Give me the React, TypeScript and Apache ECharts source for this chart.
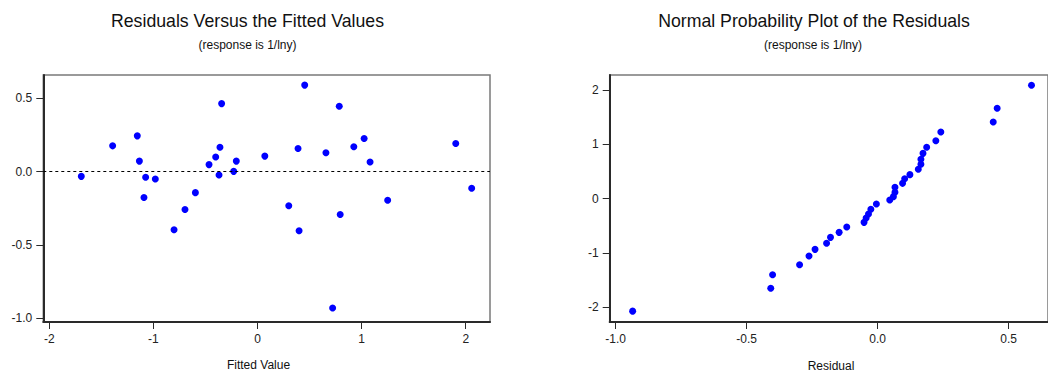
import React, { useEffect, useRef } from "react";
import * as echarts from "echarts";

const fittedValues = [-1.693, -1.392, -1.155, -1.135, -1.075, -1.091, -0.982, -0.802, -0.697, -0.597, -0.466, -0.402, -0.361, -0.345, -0.370, -0.229, -0.204, 0.070, 0.453, 0.389, 0.300, 0.399, 0.657, 0.785, 0.794, 0.721, 0.925, 1.024, 1.081, 1.250, 1.904, 2.057];
const residuals = [-0.032, 0.176, 0.244, 0.072, -0.038, -0.176, -0.050, -0.396, -0.258, -0.143, 0.048, 0.100, 0.167, 0.464, -0.023, 0.002, 0.072, 0.106, 0.590, 0.158, -0.233, -0.403, 0.129, 0.446, -0.292, -0.930, 0.170, 0.226, 0.066, -0.195, 0.192, -0.113];

const orderedResiduals = [-0.935, -0.408, -0.401, -0.298, -0.262, -0.239, -0.195, -0.180, -0.147, -0.118, -0.052, -0.044, -0.035, -0.026, -0.005, 0.046, 0.060, 0.066, 0.066, 0.095, 0.103, 0.123, 0.155, 0.165, 0.165, 0.173, 0.187, 0.222, 0.241, 0.441, 0.456, 0.587];
const normalScores = [-2.07, -1.65, -1.40, -1.215, -1.055, -0.933, -0.822, -0.712, -0.620, -0.521, -0.436, -0.356, -0.282, -0.196, -0.098, -0.025, 0.037, 0.117, 0.209, 0.282, 0.368, 0.442, 0.540, 0.632, 0.724, 0.834, 0.945, 1.067, 1.227, 1.411, 1.663, 2.086];

const leftXTicks = [-2, -1, 0, 1, 2];
const leftYTicks = [-1, -0.5, 0, 0.5];
const rightXTicks = [-1, -0.5, 0, 0.5];
const rightYTicks = [-2, -1, 0, 1, 2];

const titles = ["Residuals Versus the Fitted Values", "Normal Probability Plot of the Residuals"];
const subtitle = "(response is 1/lny)";
const axisNames = ["Fitted Value", "Residual"];

const FONT = "'Liberation Sans', Arial, sans-serif";

function axisBase(ticks: number[], fmt: (v: number) => string) {
  return {
    type: "value" as const,
    splitLine: { show: false },
    axisLine: { show: true, onZero: false, lineStyle: { color: "#2a2a2a", width: 2 } },
    axisTick: { show: true, length: 7, customValues: ticks, lineStyle: { color: "#2a2a2a", width: 1 } },
    axisLabel: {
      customValues: ticks,
      formatter: (v: number) => fmt(v),
      color: "#222",
      fontSize: 12,
      fontFamily: FONT,
      margin: 11,
    },
  };
}

export default function App() {
  const ref = useRef<HTMLDivElement>(null);
  useEffect(() => {
    if (!ref.current) return;
    const chart = echarts.init(ref.current, undefined, { renderer: "svg" });
    const text = (x: number, y: number, s: string, size: number) => ({
      type: "text",
      x,
      y,
      style: { text: s, fontSize: size, fontFamily: FONT, fill: "#111", align: "center", verticalAlign: "middle" },
    });
    chart.setOption({
      animation: false,
      backgroundColor: "#fff",
      grid: [
        { left: 43.3, top: 75, width: 446.7, height: 247, show: true, borderColor: "#7a7a7a", borderWidth: 1.5, backgroundColor: "transparent" },
        { left: 609.7, top: 75, width: 444.4, height: 247, show: true, borderColor: "#7a7a7a", borderWidth: 1.5, backgroundColor: "transparent" },
      ],
      xAxis: [
        { ...axisBase(leftXTicks, (v) => String(v)), gridIndex: 0, min: -2.058, max: 2.233, position: "bottom" },
        { ...axisBase(rightXTicks, (v) => v.toFixed(1)), gridIndex: 1, min: -1.0226, max: 0.65, position: "bottom" },
      ],
      yAxis: [
        { ...axisBase(leftYTicks, (v) => v.toFixed(1)), gridIndex: 0, min: -1.025, max: 0.659, position: "left" },
        { ...axisBase(rightYTicks, (v) => String(v)), gridIndex: 1, min: -2.27, max: 2.276, position: "left" },
      ],
      series: [
        {
          type: "scatter",
          xAxisIndex: 0,
          yAxisIndex: 0,
          symbolSize: 7,
          itemStyle: { color: "#0000ff", opacity: 1 },
          data: fittedValues.map((f, i) => [f, residuals[i]]),
          markLine: {
            silent: true,
            symbol: "none",
            label: { show: false },
            lineStyle: { color: "#000", width: 1, type: [3, 3] },
            data: [{ yAxis: 0 }],
          },
        },
        {
          type: "scatter",
          xAxisIndex: 1,
          yAxisIndex: 1,
          symbolSize: 7,
          itemStyle: { color: "#0000ff", opacity: 1 },
          data: orderedResiduals.map((r, i) => [r, normalScores[i]]),
        },
      ],
      graphic: [
        text(247.5, 21, titles[0], 17.7),
        text(247.5, 45, subtitle, 12),
        text(258.5, 365, axisNames[0], 12),
        text(814, 21, titles[1], 17.7),
        text(813, 45, subtitle, 12),
        text(831, 365.5, axisNames[1], 12),
      ],
    });
    return () => chart.dispose();
  }, []);
  return <div ref={ref} style={{ position: "fixed", left: 0, top: 0, width: 1048, height: 372 }} />;
}
